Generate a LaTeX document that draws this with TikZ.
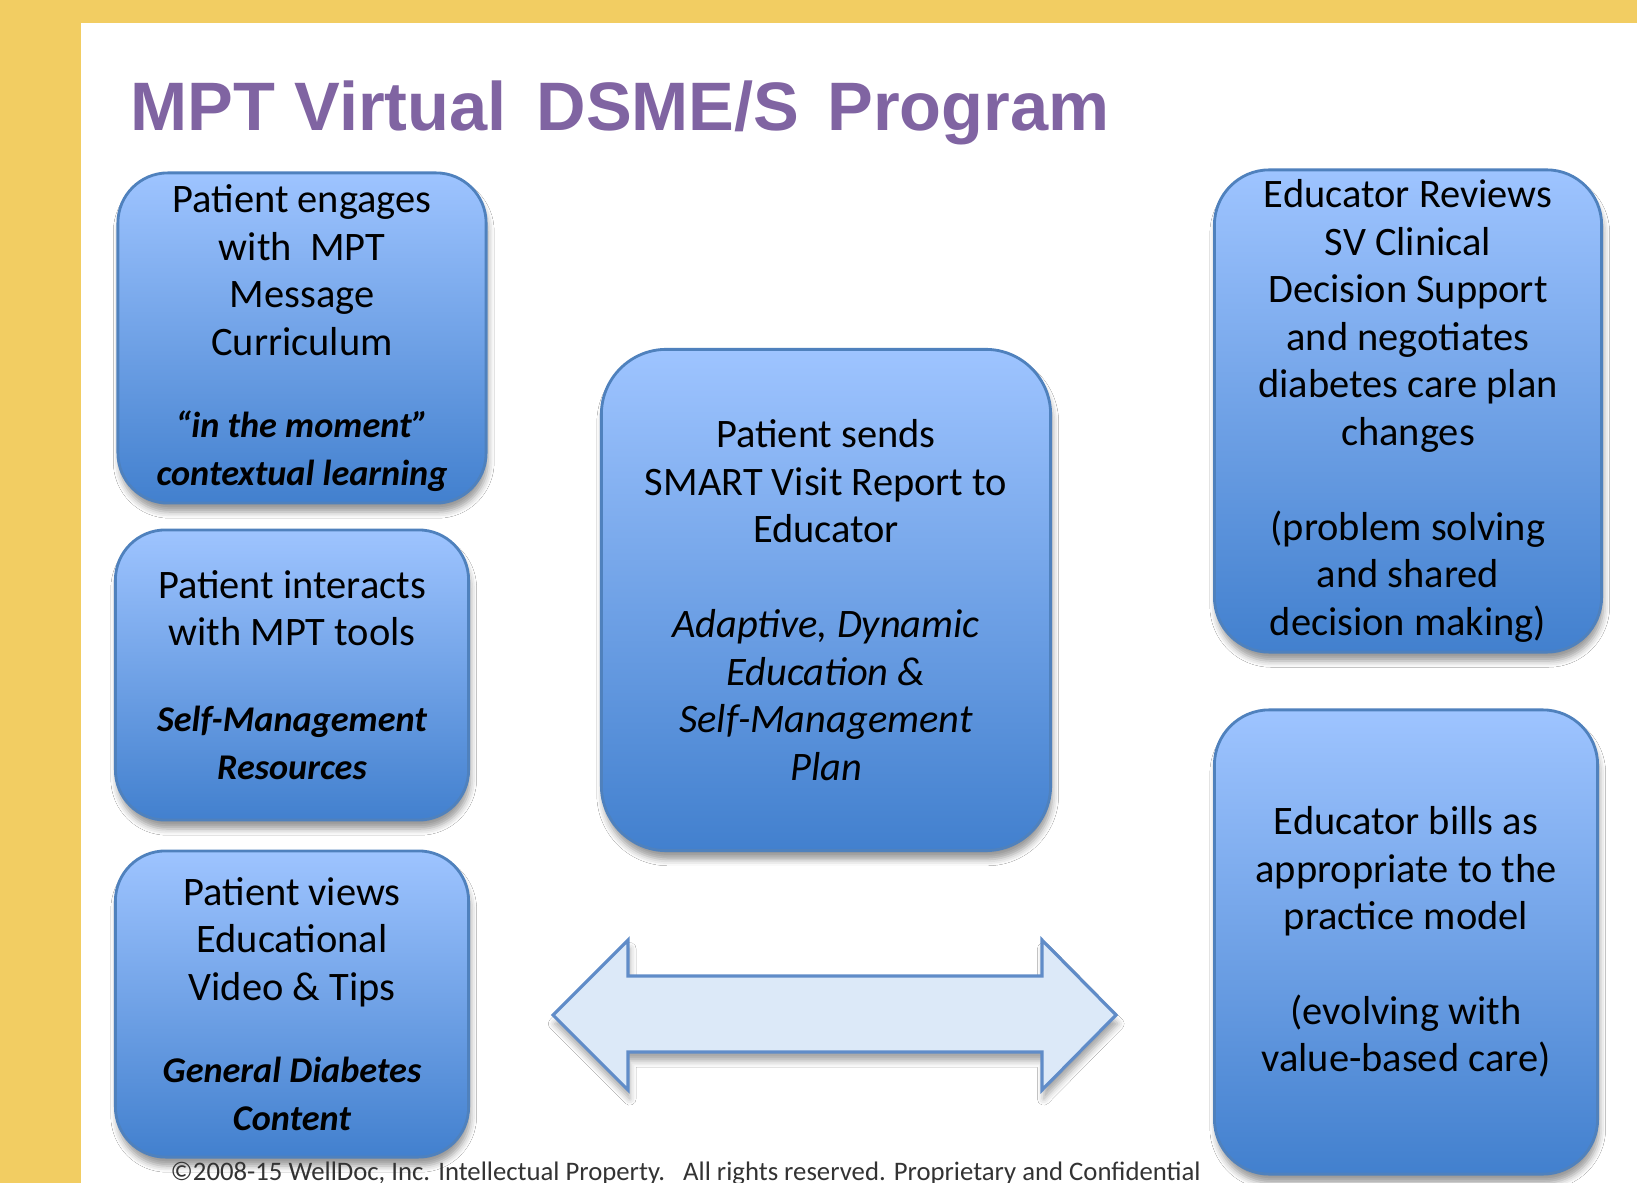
\documentclass[tikz,border=0pt]{standalone}
\usepackage{fontspec}
\setmainfont{Carlito}
\newfontfamily\headfont{Liberation Sans}
\usetikzlibrary{shadows.blur}

\definecolor{frame}{RGB}{242,205,98}
\definecolor{headpurple}{RGB}{128,100,162}
\definecolor{boxtop}{RGB}{158,196,255}
\definecolor{boxbot}{RGB}{66,128,206}
\definecolor{boxline}{RGB}{79,129,189}
\definecolor{arrowfill}{RGB}{220,233,248}
\definecolor{arrowline}{RGB}{96,140,200}

\tikzset{
  box/.style={draw=boxline, line width=0.8pt, rounded corners=0.5cm,
    top color=boxtop, bottom color=boxbot, inner sep=0pt, align=center,
    font=\fontsize{11.5}{13.5}\selectfont,
    blur shadow={shadow xshift=0.5pt, shadow yshift=-2.5pt, shadow opacity=40,
      shadow blur radius=1.8pt}}
}
\newcommand{\remark}[1]{{\fontsize{10.3}{12}\selectfont\bfseries\itshape #1}}

\begin{document}
\begin{tikzpicture}[x=0.01cm, y=-0.01cm]
    \useasboundingbox (0,0) rectangle (1637,1183);
    \fill[white] (0,0) rectangle (1637,1183);
    \fill[frame] (0,0) rectangle (1637,23);
    \fill[frame] (0,0) rectangle (81,1183);

    \node[anchor=base west, inner sep=0pt, text=headpurple,
      font=\headfont\bfseries\fontsize{19.5}{24}\selectfont] (title) at (130,131)
      {MPT Virtual\hspace{8.5pt}DSME/S\hspace{8pt}Program};

    % left column
    \node[box, minimum width=3.68cm, minimum height=3.30cm] (engage) at (302,338)
      {Patient engages\\ with\ \ MPT\\ Message\\ Curriculum\\[10pt]
       \remark{“in the moment”}\\ \remark{contextual learning}};
    \node[box, minimum width=3.53cm, minimum height=2.90cm] (tools) at (292,675)
      {Patient interacts\\ with MPT tools\\[11pt]
       \remark{Self-Management}\\ \remark{Resources}};
    \node[box, minimum width=3.53cm, minimum height=3.06cm] (videos) at (292,1004)
      {Patient views\\ Educational\\ Video \& Tips\\[10pt]
       \remark{General Diabetes}\\ \remark{Content}};

    % centre
    \node[box, rounded corners=0.65cm, minimum width=4.49cm, minimum height=5.01cm]
      (report) at (826,600)
      {Patient sends\\ SMART Visit Report to\\ Educator\\[13.5pt]
       \itshape Adaptive, Dynamic\\ \itshape Education \&\\
       \itshape Self-Management\\ \itshape Plan};

    % right column
    \node[box, rounded corners=0.55cm, minimum width=3.87cm, minimum height=4.82cm]
      (reviews) at (1408,411)
      {Educator\ Reviews\\ SV Clinical\\ Decision Support\\ and negotiates\\
       diabetes care plan\\ changes\\[13.5pt]
       (problem solving\\ and shared\\ decision making)};
    \node[box, rounded corners=0.55cm, minimum width=3.83cm, minimum height=4.64cm]
      (bills) at (1406,942)
      {Educator bills as\\ appropriate to the\\ practice model\\[13.5pt]
       (evolving with\\ value-based care)};

    % two-way arrow
    \draw[draw=arrowline, line width=0.9pt, fill=arrowfill,
      blur shadow={shadow xshift=0.5pt, shadow yshift=-2.5pt, shadow opacity=35,
        shadow blur radius=1.8pt}]
      (553,1015) -- (628,940) -- (628,976) -- (1042,976) -- (1042,940)
      -- (1116,1015) -- (1042,1090) -- (1042,1052) -- (628,1052)
      -- (628,1090) -- cycle;

    \node[anchor=base west, inner sep=0pt, text=black!80,
      font=\fontsize{7.6}{9}\selectfont] (rights) at (170,1180)
      {\textcopyright 2008-15 WellDoc, Inc. Intellectual Property.\ \ \ All rights reserved. Proprietary and Confidential};
\end{tikzpicture}
\end{document}
